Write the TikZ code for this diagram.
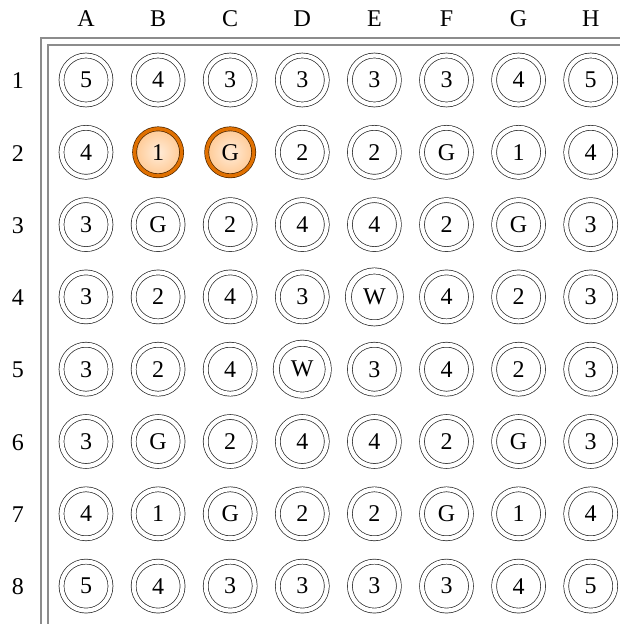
\documentclass[tikz,border=0pt]{standalone}
\usepackage{fontspec}
\setmainfont{Liberation Serif}
\begin{document}
\begin{tikzpicture}[x=1pt,y=-1pt,
  lbl/.style={font=\fontsize{24}{24}\selectfont, inner sep=0pt},
  well/.style={circle, draw=black!85, line width=0.7pt, minimum size=49pt, inner sep=0pt,
     font=\fontsize{24}{24}\selectfont, double=white, double distance=4.2pt},
  bigwell/.style={well, minimum size=52pt, double distance=5.4pt},
  hiwell/.style={circle, draw=black!70!orange, line width=0.7pt, minimum size=47pt, inner sep=0pt,
     font=\fontsize{24}{24}\selectfont, inner color=orange!15, outer color=orange!42,
     double=orange!88!black, double distance=3.4pt},
  border/.style={draw=black!45, line width=1.3pt}]
\useasboundingbox (0,0) rectangle (620,624);
\coordinate (o1) at (41,624); \coordinate (o2) at (41,38); \coordinate (o3) at (620,38);
\coordinate (i1) at (48,624); \coordinate (i2) at (48,45); \coordinate (i3) at (620,45);
\draw[border] (o1) -- (o2) -- (o3);
\draw[border] (i1) -- (i2) -- (i3);
\foreach \c [count=\i from 0] in {A,B,C,D,E,F,G,H}
  \node[lbl] (col\c) at (86+72.1*\i,19) {\c};
\foreach \r [count=\j from 0] in {1,...,8}
  \node[lbl] (row\r) at (18,81+72.3*\j) {\r};
\foreach \row [count=\j from 0] in {
  {5,4,3,3,3,3,4,5},
  {4,1,G,2,2,G,1,4},
  {3,G,2,4,4,2,G,3},
  {3,2,4,3,W,4,2,3},
  {3,2,4,W,3,4,2,3},
  {3,G,2,4,4,2,G,3},
  {4,1,G,2,2,G,1,4},
  {5,4,3,3,3,3,4,5}}{
  \foreach \v [count=\i from 0] in \row {
    \pgfmathsetmacro{\px}{86+72.1*\i}
    \pgfmathsetmacro{\py}{80+72.3*\j}
    \def\sty{well}
    \if W\v \def\sty{bigwell}\fi
    \ifnum\j=1 \ifnum\i=1 \def\sty{hiwell}\fi \ifnum\i=2 \def\sty{hiwell}\fi \fi
    \node[\sty] (w\i-\j) at (\px,\py) {\v};
  }
}
\end{tikzpicture}
\end{document}
